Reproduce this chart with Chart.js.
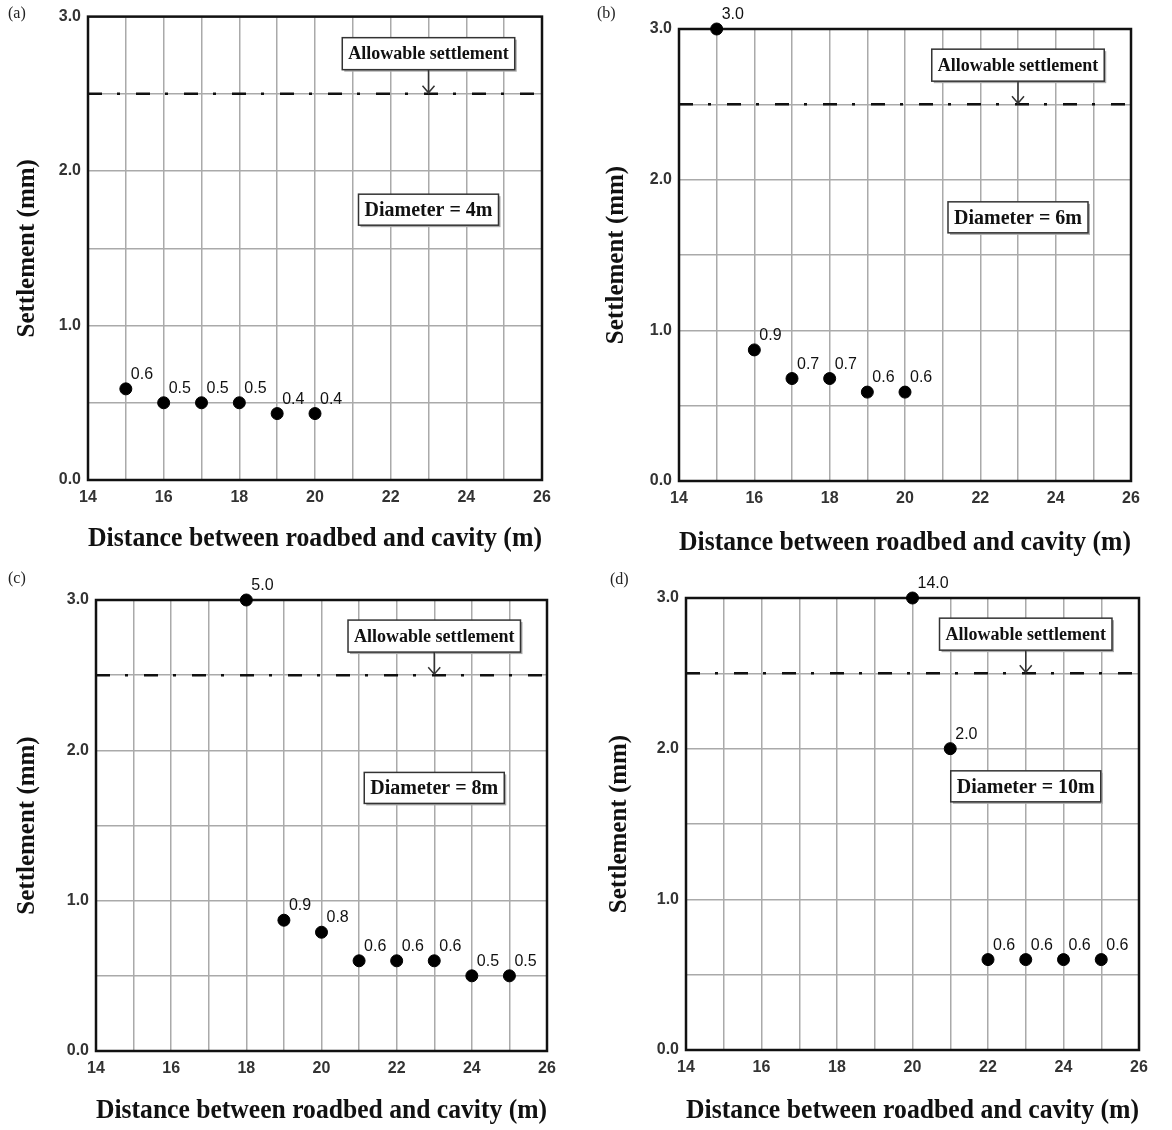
<!DOCTYPE html>
<html>
<head>
<meta charset="utf-8">
<script src="https://cdn.jsdelivr.net/npm/chart.js@4.4.0/dist/chart.umd.min.js"></script>
<style>
  body { margin: 0; background: #fff; }
  #wrap { position: relative; width: 1172px; height: 1130px; }
  canvas { position: absolute; }
  .tag { position: absolute; font: 16px "Liberation Serif", serif; color: #222; }
</style>
</head>
<body>
<div id="wrap">
  <canvas id="chartA" width="586" height="565" style="left:0;top:0"></canvas>
  <canvas id="chartB" width="586" height="565" style="left:586px;top:0"></canvas>
  <canvas id="chartC" width="586" height="565" style="left:0;top:565px"></canvas>
  <canvas id="chartD" width="586" height="565" style="left:586px;top:565px"></canvas>
  <div class="tag" style="left:8px;top:4px">(a)</div>
  <div class="tag" style="left:597px;top:4px">(b)</div>
  <div class="tag" style="left:8px;top:569px">(c)</div>
  <div class="tag" style="left:610px;top:570px">(d)</div>
</div>
<script>
// axis limits
const xMin = 14, xMax = 26;
const yMin = 0, yMax = 3;
const allowable = 2.5; // allowable settlement (mm)

// (a) diameter = 4m
const distA = [15, 16, 17, 18, 19, 20];
const settleA = [0.59, 0.5, 0.5, 0.5, 0.43, 0.43];
const labelA = ['0.6', '0.5', '0.5', '0.5', '0.4', '0.4'];

// (b) diameter = 6m
const distB = [15, 16, 17, 18, 19, 20];
const settleB = [3.0, 0.87, 0.68, 0.68, 0.59, 0.59];
const labelB = ['3.0', '0.9', '0.7', '0.7', '0.6', '0.6'];

// (c) diameter = 8m
const distC = [18, 19, 20, 21, 22, 23, 24, 25];
const settleC = [3.0, 0.87, 0.79, 0.6, 0.6, 0.6, 0.5, 0.5];
const labelC = ['5.0', '0.9', '0.8', '0.6', '0.6', '0.6', '0.5', '0.5'];

// (d) diameter = 10m
const distD = [20, 21, 22, 23, 24, 25];
const settleD = [3.0, 2.0, 0.6, 0.6, 0.6, 0.6];
const labelD = ['14.0', '2.0', '0.6', '0.6', '0.6', '0.6'];

// where the note boxes sit (in axis units)
const noteX = 23;
const allowNoteY = 2.76;
const diamNoteY = 1.75;

const serif = '"Liberation Serif", "Times New Roman", serif';
const sans = '"Liberation Sans", Arial, sans-serif';

function drawBox(ctx, text, cx, cy, font, h) {
    ctx.font = font;
    const w = ctx.measureText(text).width + 12;
    const left = cx - w / 2, top = cy - h / 2;
    ctx.fillStyle = '#aaa';
    ctx.fillRect(left + 2, top + 2, w, h);
    ctx.fillStyle = '#fff';
    ctx.fillRect(left, top, w, h);
    ctx.strokeStyle = '#333';
    ctx.lineWidth = 1.5;
    ctx.strokeRect(left, top, w, h);
    ctx.fillStyle = '#111';
    ctx.textAlign = 'center';
    ctx.textBaseline = 'middle';
    ctx.fillText(text, cx, cy + 1);
    return top + h;
}

const decor = {
    id: 'decor',
    beforeDatasetsDraw(chart) {
        const { ctx, chartArea: a } = chart;
        ctx.save();
        ctx.strokeStyle = '#111';
        ctx.lineWidth = 2.5;
        ctx.strokeRect(a.left, a.top, a.right - a.left, a.bottom - a.top);
        ctx.restore();
    },
    afterDatasetsDraw(chart, args, opts) {
        const { ctx, scales: { x, y } } = chart;
        ctx.save();
        // value labels next to the points
        ctx.font = '16px ' + sans;
        ctx.fillStyle = '#111';
        ctx.textAlign = 'left';
        ctx.textBaseline = 'alphabetic';
        chart.getDatasetMeta(0).data.forEach((pt, i) => {
            ctx.fillText(opts.labels[i], pt.x + 5, pt.y - 10);
        });
        // allowable settlement note + arrow
        const cx = x.getPixelForValue(noteX);
        const boxBottom = drawBox(ctx, 'Allowable settlement', cx, y.getPixelForValue(allowNoteY), 'bold 18px ' + serif, 32);
        const tip = y.getPixelForValue(allowable);
        ctx.strokeStyle = '#333';
        ctx.lineWidth = 1.5;
        ctx.beginPath();
        ctx.moveTo(cx, boxBottom);
        ctx.lineTo(cx, tip - 1);
        ctx.moveTo(cx - 6, tip - 8);
        ctx.lineTo(cx, tip - 1);
        ctx.lineTo(cx + 6, tip - 8);
        ctx.stroke();
        // diameter note
        drawBox(ctx, opts.diameter, cx, y.getPixelForValue(diamNoteY), 'bold 20px ' + serif, 31);
        ctx.restore();
    }
};

function drawPanel(id, dist, settle, labels, diameter, g) {
    const ctx = document.getElementById(id).getContext('2d');
    new Chart(ctx, {
        type: 'scatter',
        data: {
            datasets: [{
                data: dist.map((d, i) => ({ x: d, y: settle[i] })),
                backgroundColor: '#000',
                borderColor: '#000',
                pointRadius: 6,
                clip: false
            }, {
                type: 'line',
                data: [{ x: xMin, y: allowable }, { x: xMax, y: allowable }],
                borderColor: '#111',
                borderWidth: 2.5,
                borderDash: [14, 15, 3, 16],
                pointRadius: 0
            }]
        },
        options: {
            responsive: false,
            animation: false,
            layout: { padding: { left: 0, top: g.top, right: g.right, bottom: 0 } },
            plugins: {
                legend: { display: false },
                tooltip: { enabled: false },
                decor: { labels: labels, diameter: diameter }
            },
            scales: {
                x: {
                    type: 'linear',
                    min: xMin,
                    max: xMax,
                    afterFit: s => { s.height = g.axisH; },
                    ticks: {
                        stepSize: 1,
                        autoSkip: false,
                        maxRotation: 0,
                        padding: 8,
                        color: '#333',
                        font: { family: sans, size: 16, weight: 'bold' },
                        callback: v => (v % 2 === 0 ? v : '')
                    },
                    grid: { color: '#aaa', lineWidth: 1.5, drawTicks: false },
                    border: { display: false },
                    title: {
                        display: true,
                        text: 'Distance between roadbed and cavity (m)',
                        color: '#111',
                        font: { family: serif, size: 28, weight: 'bold' },
                        padding: { top: 0, bottom: g.titleB }
                    }
                },
                y: {
                    type: 'linear',
                    min: yMin,
                    max: yMax,
                    afterFit: s => { s.width = g.axisW; },
                    ticks: {
                        stepSize: 0.5,
                        autoSkip: false,
                        padding: 7,
                        color: '#333',
                        font: { family: sans, size: 16, weight: 'bold' },
                        callback: v => (Number.isInteger(v) ? v.toFixed(1) : '')
                    },
                    grid: { color: '#aaa', lineWidth: 1.5, drawTicks: false },
                    border: { display: false },
                    title: {
                        display: true,
                        text: 'Settlement (mm)',
                        color: '#111',
                        font: { family: serif, size: 25, weight: 'bold' },
                        padding: { top: g.titleL, bottom: 0 }
                    }
                }
            }
        },
        plugins: [decor]
    });
}

drawPanel('chartA', distA, settleA, labelA, 'Diameter = 4m',
    { top: 13, right: 44, axisW: 88, axisH: 85, titleB: 9, titleL: 13 });
drawPanel('chartB', distB, settleB, labelB, 'Diameter = 6m',
    { top: 29, right: 41, axisW: 93, axisH: 84, titleB: 5, titleL: 16 });
drawPanel('chartC', distC, settleC, labelC, 'Diameter = 8m',
    { top: 35, right: 39, axisW: 96, axisH: 79, titleB: 2, titleL: 13 });
drawPanel('chartD', distD, settleD, labelD, 'Diameter = 10m',
    { top: 33, right: 33, axisW: 100, axisH: 80, titleB: 2, titleL: 19 });
</script>
</body>
</html>
